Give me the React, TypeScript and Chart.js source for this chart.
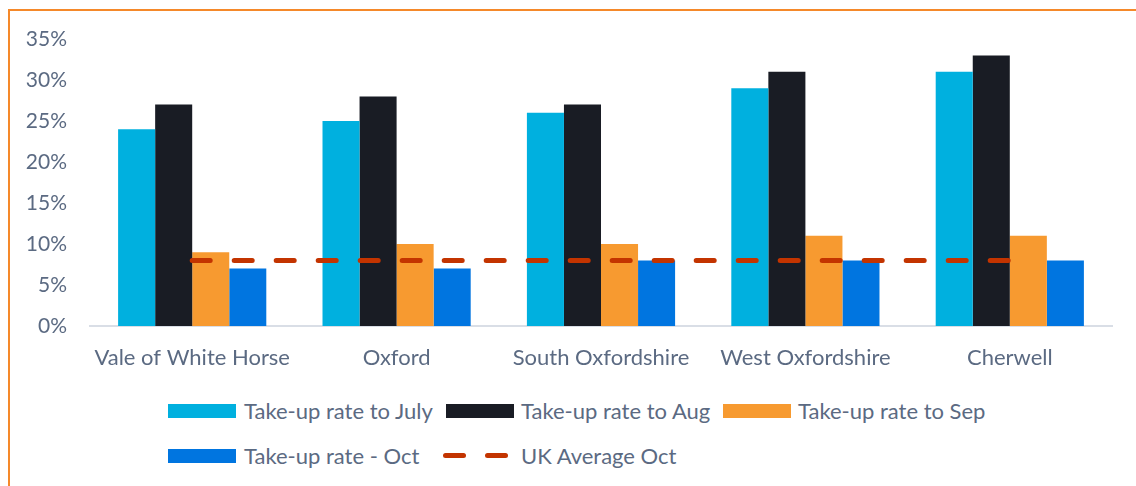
import React, { useEffect, useRef } from "react";
import { Chart, registerables } from "chart.js";

Chart.register(...registerables);

const categories = ["Vale of White Horse", "Oxford", "South Oxfordshire", "West Oxfordshire", "Cherwell"];
const july = [24, 25, 26, 29, 31];
const aug = [27, 28, 27, 31, 33];
const sep = [9, 10, 10, 11, 11];
const oct = [7, 7, 8, 8, 8];
const ukAvg = [8, 8, 8, 8, 8];
const yTicks = [0, 5, 10, 15, 20, 25, 30, 35];

const TEXT = "#5B6A82";
const FONT = "Lato, 'Open Sans', sans-serif";
const C_JULY = "#00B0DF";
const C_AUG = "#191C24";
const C_SEP = "#F79A30";
const C_OCT = "#0075E0";
const C_UK = "#C33400";

export default function App() {
  const ref = useRef<HTMLCanvasElement>(null);
  useEffect(() => {
    document.body.style.margin = "0";
    const ctx = ref.current!.getContext("2d")!;
    const chart = new Chart(ctx, {
      type: "bar",
      data: {
        labels: categories,
        datasets: [
          { type: "line", label: "UK Average Oct", data: ukAvg, borderColor: C_UK, borderWidth: 5, borderDash: [18, 24], borderCapStyle: "round", pointRadius: 0, fill: false, order: 0 } as any,
          { label: "Take-up rate to July", data: july, backgroundColor: C_JULY, order: 1 },
          { label: "Take-up rate to Aug", data: aug, backgroundColor: C_AUG, order: 1 },
          { label: "Take-up rate to Sep", data: sep, backgroundColor: C_SEP, order: 1 },
          { label: "Take-up rate - Oct", data: oct, backgroundColor: C_OCT, order: 1 },
        ],
      },
      options: {
        animation: false,
        responsive: false,
        maintainAspectRatio: false,
        layout: { padding: { left: 0, right: 24, top: 39, bottom: 0 } },
        datasets: { bar: { categoryPercentage: 0.725, barPercentage: 1 } } as any,
        plugins: { legend: { display: false }, tooltip: { enabled: false } },
        scales: {
          x: {
            grid: { display: false, drawTicks: false },
            border: { display: true, color: "#D9DEE6", width: 2 },
            ticks: { color: TEXT, font: { family: FONT, size: 22 }, padding: 19, maxRotation: 0 },
            afterFit: (s: any) => { s.height = 54; },
          },
          y: {
            min: 0,
            max: 35,
            grid: { display: false, drawTicks: false },
            border: { display: false },
            afterBuildTicks: (s: any) => { s.ticks = yTicks.map((v) => ({ value: v })); },
            ticks: { color: TEXT, font: { family: FONT, size: 21 }, padding: 23, callback: (v: any) => v + "%" },
            afterFit: (s: any) => { s.width = 90; },
          },
        },
      },
    });
    return () => chart.destroy();
  }, []);

  const legendText: React.CSSProperties = { position: "absolute", color: TEXT, fontFamily: FONT, fontSize: 22, lineHeight: "26px", whiteSpace: "nowrap" };
  const box = (left: number, top: number, color: string) => (
    <div style={{ position: "absolute", left, top, width: 68, height: 14, background: color }} />
  );
  const dash = (left: number) => (
    <div style={{ position: "absolute", left, top: 453, width: 23, height: 5, borderRadius: 3, background: C_UK }} />
  );

  return (
    <div style={{ position: "fixed", left: 0, top: 0, width: 1136, height: 486, background: "#fff", overflow: "hidden" }}>
      <canvas ref={ref} width={1136} height={380} style={{ position: "absolute", left: 0, top: 0 }} />
      <div style={{ position: "absolute", left: 8, top: 9, width: 1128, height: 2, background: "#F5892A" }} />
      <div style={{ position: "absolute", left: 8, top: 9, width: 2, height: 477, background: "#F5892A" }} />
      {box(168, 404, C_JULY)}
      <div style={{ ...legendText, left: 244, top: 398 }}>Take-up rate to July</div>
      {box(446, 404, C_AUG)}
      <div style={{ ...legendText, left: 521, top: 398 }}>Take-up rate to Aug</div>
      {box(723, 404, C_SEP)}
      <div style={{ ...legendText, left: 798, top: 398 }}>Take-up rate to Sep</div>
      {box(168, 449, C_OCT)}
      <div style={{ ...legendText, left: 244, top: 443 }}>Take-up rate - Oct</div>
      {dash(443)}
      {dash(485)}
      <div style={{ ...legendText, left: 521, top: 443 }}>UK Average Oct</div>
    </div>
  );
}
